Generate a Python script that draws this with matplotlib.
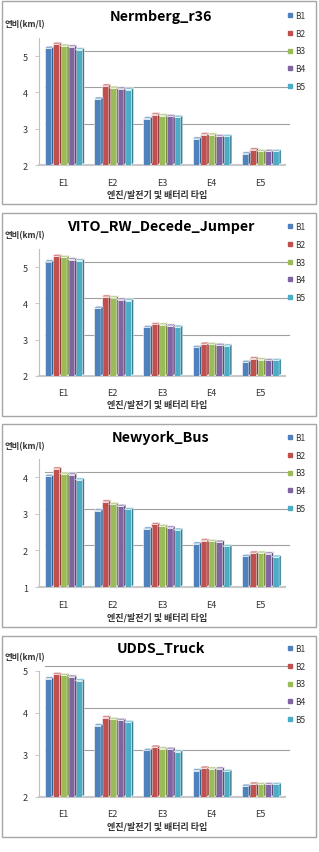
import numpy as np
import matplotlib
matplotlib.use("Agg")
import matplotlib.pyplot as plt
from matplotlib.patches import Rectangle, Polygon
from matplotlib.lines import Line2D
import matplotlib.transforms as mtransforms

plt.rcParams['font.family'] = ['Noto Sans CJK KR', 'DejaVu Sans']

# ---------------------------------------------------------------------
# DATA (rows: E1..E5, columns: B1..B5)
# ---------------------------------------------------------------------
engines = ["E1", "E2", "E3", "E4", "E5"]
batteries = ["B1", "B2", "B3", "B4", "B5"]
titles = ["Nermberg_r36", "VITO_RW_Decede_Jumper", "Newyork_Bus", "UDDS_Truck"]

nermberg = [[5.22, 5.33, 5.28, 5.26, 5.18],
            [3.82, 4.18, 4.12, 4.10, 4.08],
            [3.28, 3.39, 3.36, 3.34, 3.32],
            [2.72, 2.84, 2.83, 2.79, 2.79],
            [2.31, 2.42, 2.38, 2.38, 2.38]]
vito = [[5.15, 5.30, 5.27, 5.21, 5.18],
        [3.87, 4.18, 4.16, 4.10, 4.08],
        [3.34, 3.42, 3.41, 3.38, 3.35],
        [2.79, 2.88, 2.87, 2.85, 2.83],
        [2.38, 2.48, 2.45, 2.43, 2.43]]
newyork = [[4.03, 4.23, 4.09, 4.07, 3.93],
           [3.09, 3.33, 3.26, 3.21, 3.12],
           [2.59, 2.71, 2.66, 2.62, 2.56],
           [2.18, 2.27, 2.25, 2.23, 2.11],
           [1.84, 1.93, 1.93, 1.91, 1.82]]
udds = [[4.82, 4.92, 4.90, 4.86, 4.77],
        [3.70, 3.89, 3.85, 3.83, 3.78],
        [3.11, 3.19, 3.15, 3.14, 3.08],
        [2.63, 2.69, 2.67, 2.67, 2.61],
        [2.26, 2.31, 2.30, 2.30, 2.30]]
datasets = [nermberg, vito, newyork, udds]

ylims = [(2, 5.5), (2, 5.5), (1, 4.5), (2, 5)]
yticks = [[2, 3, 4, 5], [2, 3, 4, 5], [1, 2, 3, 4], [2, 3, 4, 5]]

colors = ["#4F81BD", "#C0504D", "#9BBB59", "#8064A2", "#4BACC6"]

# ---------------------------------------------------------------------
# LAYOUT (pixel positions measured on the reference, top-origin)
# ---------------------------------------------------------------------
W, H = 319, 853
panel_box = [(2, 205), (214, 417), (425, 628), (637, 838)]
axes_y = [(39, 166), (250, 377), (460, 588), (672, 798)]
title_y = [17, 227, 438, 649]
ylabel_y = [25, 236, 447, 658]
xlabel_y = [195, 405, 618, 827]
legend_top = [12, 223, 434, 645]
ax_left, ax_right = 39, 285


def shade(c, f):
    c = np.array(matplotlib.colors.to_rgb(c))
    if f > 1:
        return tuple(c + (1 - c) * (f - 1))
    return tuple(c * f)


fig = plt.figure(figsize=(W / 100, H / 100), dpi=100)

for k in range(4):
    # panel frame
    top, bot = panel_box[k]
    fig.add_artist(Rectangle((1.5 / W, 1 - bot / H), 314 / W, (bot - top) / H,
                             transform=fig.transFigure, fill=False,
                             edgecolor="#A6A6A6", linewidth=1.0))

    yt, yb = axes_y[k]
    ax = fig.add_axes([ax_left / W, 1 - yb / H, (ax_right - ax_left) / W, (yb - yt) / H])
    ax.set_xlim(-0.5, 4.5)
    ax.set_ylim(*ylims[k])
    ax.set_yticks(yticks[k])
    ax.set_xticks(range(5))
    ax.set_xticklabels(engines)
    ax.patch.set_alpha(0)

    # gridlines on the back wall (shifted for the 3D look)
    back = mtransforms.offset_copy(ax.transData, fig=fig, x=4, y=5, units="dots")
    for t in yticks[k][1:]:
        ax.plot([-0.45, 4.5], [t, t], color="#A0A0A0", lw=0.8, transform=back,
                zorder=0, clip_on=False)

    vals = np.array(datasets[k])
    x = np.arange(5)
    bw = 0.14
    for j in range(5):
        bars = ax.bar(x + (j - 2) * 0.155, vals[:, j] - ylims[k][0], bw,
                      bottom=ylims[k][0], color=colors[j], edgecolor="white",
                      linewidth=0.4, zorder=3)
        # 3D top cap and side face
        for b in bars:
            x0, y0 = b.get_x(), b.get_y()
            x1, y1 = x0 + b.get_width(), y0 + b.get_height()
            p = ax.transData.transform([[x0, y1], [x1, y1], [x1, y0]])
            d = np.array([2.0, 2.0])
            cap = ax.transData.inverted().transform(
                [p[0], p[1], p[1] + d, p[0] + d])
            side = ax.transData.inverted().transform(
                [p[1], p[2], p[2] + d, p[1] + d])
            ax.add_patch(Polygon(cap, closed=True, facecolor=shade(colors[j], 1.35),
                                 edgecolor="white", lw=0.3, zorder=4, clip_on=False))
            ax.add_patch(Polygon(side, closed=True, facecolor=shade(colors[j], 0.75),
                                 edgecolor="white", lw=0.3, zorder=4, clip_on=False))

    for s in ["top", "right"]:
        ax.spines[s].set_visible(False)
    ax.spines["left"].set_color("#BFBFBF")
    ax.spines["bottom"].set_color("#C8C8C8")
    ax.spines["bottom"].set_linewidth(1.5)
    ax.tick_params(axis="y", length=3, width=0.6, color="#BFBFBF", pad=5,
                   labelsize=6.5, labelcolor="#333333")
    ax.tick_params(axis="x", length=0, pad=9, labelsize=6.5, labelcolor="#333333")

    fig.text(161 / W, 1 - title_y[k] / H, titles[k], ha="center", va="center",
             fontsize=10.3, fontweight="bold", color="black")
    fig.text(5 / W, 1 - ylabel_y[k] / H, "연비(km/l)", ha="left", va="center",
             fontsize=6, fontweight="bold", color="#333333")
    fig.text(157 / W, 1 - xlabel_y[k] / H, "엔진/발전기 및 배터리 타입", ha="center",
             va="center", fontsize=6.5, fontweight="bold", color="#333333")

    handles = [Line2D([], [], marker="s", ls="", markersize=2.5, color=c) for c in colors]
    fig.legend(handles, batteries, loc="upper left",
               bbox_to_anchor=(287 / W, 1 - legend_top[k] / H),
               bbox_transform=fig.transFigure, frameon=False, fontsize=6,
               handlelength=0.6, handletextpad=0.4, labelspacing=1.05,
               borderaxespad=0, borderpad=0, labelcolor="#333333")

fig.savefig("out.png", dpi=100)
